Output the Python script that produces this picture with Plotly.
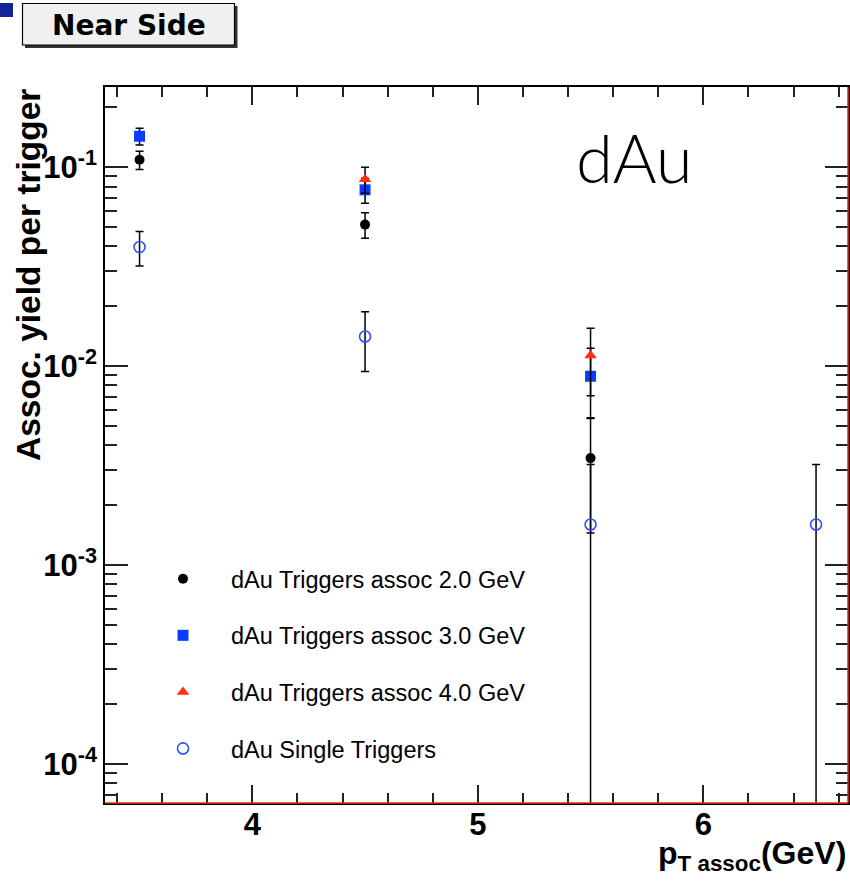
import plotly.graph_objects as go

# ---- data ----
pt_trig = [3.5, 4.5, 5.5]
pt_trig4 = [4.5, 5.5]
pt_single = [3.5, 4.5, 5.5, 6.5]

yield_a2 = [0.109, 0.0515, 0.00345]
err_a2 = [0.0115, 0.0075, 0.0020]

yield_a3 = [0.1432, 0.0770, 0.0089]
err_a3 = [0.0138, 0.0110, 0.0034]

yield_a4 = [0.087, 0.0113]
err_a4 = [0.013, 0.0042]

yield_single = [0.0397, 0.0141, 0.0016, 0.0016]
err_single = [0.0078, 0.0047, 0.0016, 0.0016]

names = ["dAu Triggers assoc 2.0 GeV", "dAu Triggers assoc 3.0 GeV",
         "dAu Triggers assoc 4.0 GeV", "dAu Single Triggers"]

y_major = [1e-4, 1e-3, 1e-2, 1e-1]
y_major_text = ["10<sup>-4</sup>", "10<sup>-3</sup>", "10<sup>-2</sup>", "10<sup>-1</sup>"]
y_minor = [m * 10.0 ** e for e in range(-5, 0) for m in range(2, 10)]

# ---- styling ----
W, H = 850, 882
L, R, T, B = 105, 2, 87, 79
PW, PH = W - L - R, H - T - B
FONT = "Liberation Sans, Arial, Helvetica, sans-serif"


def px_x(px):
    return (px - L) / PW


def px_y(py):
    return (H - B - py) / PH


err_style = dict(type="data", color="black", thickness=1.5, width=4)

fig = go.Figure()
fig.add_trace(go.Scatter(
    x=pt_trig, y=yield_a2, mode="markers", name=names[0], legendgroup="g1",
    marker=dict(symbol="circle", size=10, color="black"),
    error_y=dict(array=err_a2, **err_style)))
fig.add_trace(go.Scatter(
    x=pt_trig, y=yield_a3, mode="markers", name=names[1], legendgroup="g2",
    marker=dict(symbol="square", size=11, color="#0a3cff"),
    error_y=dict(array=err_a3, **err_style)))
fig.add_trace(go.Scatter(
    x=pt_trig4, y=yield_a4, mode="markers", name=names[2], legendgroup="g3",
    marker=dict(symbol="triangle-up", size=11, color="#ff3010"),
    error_y=dict(array=err_a4, **err_style)))
fig.add_trace(go.Scatter(
    x=pt_single, y=yield_single, mode="markers", name=names[3], legendgroup="g4",
    marker=dict(symbol="circle-open", size=11, color="#2e50ff", line=dict(width=1.6)),
    error_y=dict(array=err_single, **err_style)))

axis_common = dict(showline=True, linecolor="black", linewidth=1.5, mirror="ticks",
                   ticks="inside", tickcolor="#222", tickwidth=1.5, showgrid=False,
                   zeroline=False,
                   tickfont=dict(family=FONT, size=31, color="black", weight="bold"))

fig.update_xaxes(range=[3.3468, 6.6417], dtick=1, tick0=0, ticklen=18,
                 ticklabelstandoff=-7,
                 minor=dict(ticks="inside", dtick=0.2, tick0=0, ticklen=10,
                            tickcolor="#222", tickwidth=1.5, showgrid=False),
                 **axis_common)
fig.update_yaxes(type="log", range=[-4.196, -0.5965], tickmode="array",
                 tickvals=y_major, ticktext=y_major_text, ticklen=23,
                 minor=dict(ticks="inside", tickmode="array", tickvals=y_minor, ticklen=12,
                            tickcolor="#222", tickwidth=1.5, showgrid=False),
                 **axis_common)

shapes = [
    # red frame edges (bottom, right)
    dict(type="line", xref="paper", yref="paper", x0=0, x1=1, y0=0, y1=0,
         line=dict(color="#e8290f", width=1.5)),
    dict(type="line", xref="paper", yref="paper", x0=1, x1=1, y0=0, y1=1,
         line=dict(color="#e8290f", width=1.5)),
    # "Near Side" box shadow and box
    dict(type="rect", xref="paper", yref="paper", x0=px_x(25), x1=px_x(237.5),
         y0=px_y(48), y1=px_y(6), fillcolor="#333333", line=dict(width=0), layer="above"),
    dict(type="rect", xref="paper", yref="paper", x0=px_x(22.5), x1=px_x(234.5),
         y0=px_y(45), y1=px_y(3.5), fillcolor="#f0f0f0",
         line=dict(color="black", width=1.2), layer="above"),
    # small blue square at top-left corner
    dict(type="rect", xref="paper", yref="paper", x0=px_x(0), x1=px_x(13),
         y0=px_y(17), y1=px_y(3), fillcolor="#13239a", line=dict(width=0), layer="above"),
]

annotations = [
    dict(text="Near Side", xref="paper", yref="paper", x=px_x(128.5), y=px_y(26),
         xanchor="center", yanchor="middle", showarrow=False,
         font=dict(family="DejaVu Sans", size=28, color="black", weight="bold")),
    dict(text="dAu", xref="paper", yref="paper", x=px_x(634), y=px_y(157),
         xanchor="center", yanchor="middle", showarrow=False,
         font=dict(family="Lato", size=67, color="black", weight=300)),
    dict(text="<b>Assoc. yield per trigger</b>", xref="paper", yref="paper",
         x=0, xshift=-77, y=1, xanchor="center", yanchor="top", textangle=-90,
         showarrow=False, font=dict(family=FONT, size=33.5, color="black")),
    dict(text="<b>p<sub>T assoc</sub>(GeV)</b>", xref="paper", yref="paper",
         x=1, y=0, xanchor="right", yanchor="top", yshift=-30, showarrow=False,
         font=dict(family=FONT, size=32, color="black")),
]

fig.update_layout(
    width=W, height=H, margin=dict(l=L, r=R, t=T, b=B, autoexpand=False),
    paper_bgcolor="white", plot_bgcolor="white",
    shapes=shapes, annotations=annotations,
    legend=dict(x=px_x(135), y=px_y(557), xanchor="left", yanchor="top",
                bgcolor="rgba(0,0,0,0)", borderwidth=0, traceorder="grouped",
                tracegroupgap=23, itemwidth=86,
                font=dict(family=FONT, size=23.5, color="black")),
    showlegend=True,
)

fig.write_html("out.html")
